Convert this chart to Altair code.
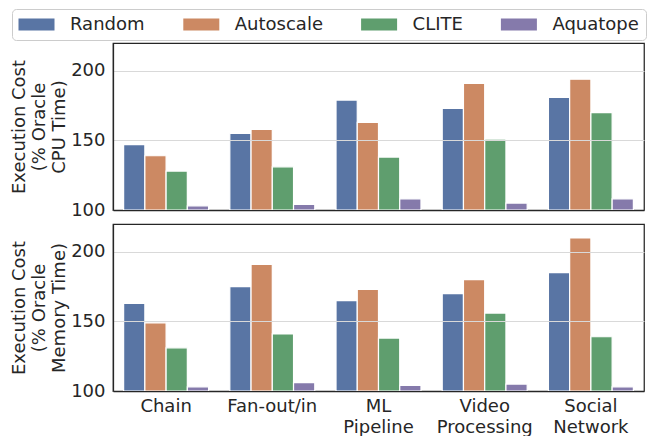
import altair as alt
import pandas as pd

categories = ["Chain", "Fan-out/in", "ML\nPipeline", "Video\nProcessing", "Social\nNetwork"]
methods = ["Random", "Autoscale", "CLITE", "Aquatope"]
colors = ["#5975a4", "#cc8963", "#5f9e6e", "#857aab"]

cpu_random = [147, 155, 179, 173, 181]
cpu_autoscale = [139, 158, 163, 191, 194]
cpu_clite = [128, 131, 138, 151, 170]
cpu_aquatope = [103, 104, 108, 105, 108]

mem_random = [163, 175, 165, 170, 185]
mem_autoscale = [149, 191, 173, 180, 210]
mem_clite = [131, 141, 138, 156, 139]
mem_aquatope = [103, 106, 104, 105, 103]

y_ticks = [100, 150, 200]
y_domain = [100, 220]


def build_df(series):
    rows = []
    for m, vals in zip(methods, series):
        for c, v in zip(categories, vals):
            rows.append({"category": c, "method": m, "value": v})
    return pd.DataFrame(rows)


cpu_df = build_df([cpu_random, cpu_autoscale, cpu_clite, cpu_aquatope])
mem_df = build_df([mem_random, mem_autoscale, mem_clite, mem_aquatope])

FONT = "DejaVu Sans"
TXT = "#262626"
W = 531
H = 167


def panel(df, title_lines, show_x):
    if show_x:
        xaxis = alt.Axis(title=None, labelAngle=0, labelFontSize=18, labelColor=TXT,
                         labelFont=FONT, ticks=False, labelPadding=6,
                         labelExpr="split(datum.label, '\\n')", labelLineHeight=21,
                         domain=True, domainColor=TXT, domainWidth=1.25, zindex=1)
    else:
        xaxis = alt.Axis(title=None, labels=False, ticks=False, labelPadding=0,
                         domain=True, domainColor=TXT, domainWidth=1.25, zindex=1)
    legend = alt.Legend(
        title=None, orient="none", direction="horizontal", legendX=-101, legendY=-34,
        symbolType="M-1.5,-1H4.5V1H-1.5Z", symbolSize=144, symbolStrokeWidth=0,
        symbolOpacity=1, labelFontSize=18, labelFont=FONT, labelColor=TXT,
        labelOffset=33.5, columnPadding=37.8, padding=6.5, strokeColor="#cccccc",
        cornerRadius=4, fillColor="white", columns=4,
    )
    return alt.Chart(df).mark_bar(stroke="white", strokeWidth=1.2).encode(
        x=alt.X("category:N", sort=categories,
                scale=alt.Scale(paddingInner=0.2, paddingOuter=0.1), axis=xaxis),
        xOffset=alt.XOffset("method:N", sort=methods,
                            scale=alt.Scale(paddingInner=0, paddingOuter=0)),
        y=alt.Y("value:Q",
                scale=alt.Scale(domain=y_domain, zero=False, nice=False),
                axis=alt.Axis(values=y_ticks, title=title_lines, grid=True,
                              gridColor="#d9d9d9", gridWidth=1, ticks=False,
                              labelFontSize=18, labelFont=FONT, labelColor=TXT,
                              labelPadding=8, titleFontSize=18, titleFont=FONT,
                              titleFontWeight="normal", titleColor=TXT,
                              titleLineHeight=20, titlePadding=2,
                              domain=True, domainColor=TXT, domainWidth=1.25, zindex=1)),
        y2=alt.datum(100),
        color=alt.Color("method:N", sort=methods,
                        scale=alt.Scale(domain=methods, range=colors), legend=legend),
    ).properties(width=W, height=H)


top = panel(cpu_df, ["Execution Cost", "(% Oracle", "CPU Time)"], False)
bottom = panel(mem_df, ["Execution Cost", "(% Oracle", "Memory Time)"], True)

chart = (
    alt.vconcat(top, bottom, spacing=3)
    .properties(padding={"left": 2, "top": 0, "right": 0, "bottom": 0})
    .configure_view(stroke=TXT, strokeWidth=1.25)
)

chart.save("out.html", embed_options={"renderer": "svg", "actions": False})
